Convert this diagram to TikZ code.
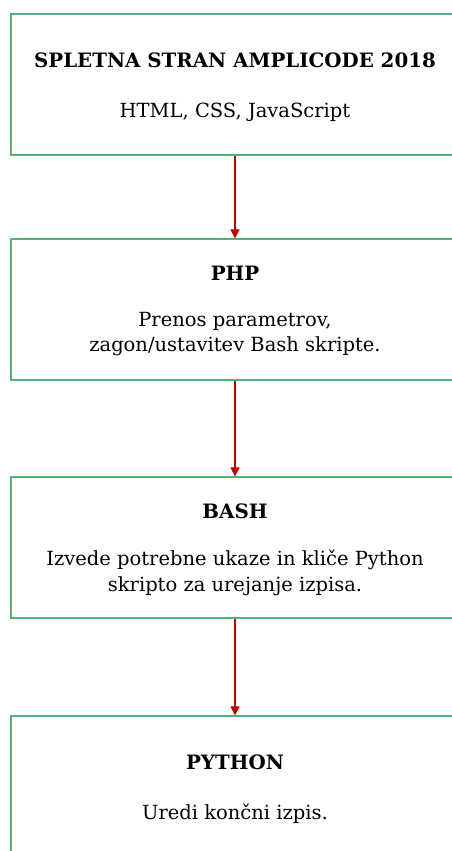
\documentclass[tikz,border=0pt]{standalone}
\usepackage{fontspec}
\setmainfont{DejaVu Serif}
\usetikzlibrary{arrows.meta}
\definecolor{boxgreen}{RGB}{82,179,120}
\definecolor{arrowred}{RGB}{195,0,0}
\tikzset{
  stage/.style={draw=boxgreen, line width=1.3pt, fill=white,
    minimum width=448pt, minimum height=141pt, inner sep=0pt},
  title/.style={anchor=base, font=\fontsize{19.8}{24}\selectfont\bfseries, inner sep=0pt},
  desc/.style={anchor=base, font=\fontsize{19.5}{25.5}\selectfont, align=center, inner sep=0pt},
  flow/.style={draw=arrowred, line width=1.2pt,
    -{Triangle[length=9pt,width=9pt]}}
}
\begin{document}
\begin{tikzpicture}[x=1pt,y=-1pt]
  \clip (0,0) rectangle (452,851);
  \fill[white] (0,0) rectangle (452,851);

  % four processing stages, stacked vertically
  \node[stage] (b1) at (235,84.5) {};
  \node[stage] (b2) at (235,309.5) {};
  \node[stage] (b3) at (235,547.5) {};
  \node[stage] (b4) at (235,786.5) {};

  % stage titles and descriptions
  \node[title] (t1) at (235,67) {SPLETNA STRAN AMPLICODE 2018};
  \node[desc]  (d1) at (235,117) {HTML, CSS, JavaScript};

  \node[title] (t2) at (235,280) {PHP};
  \node[desc, anchor=north] (d2) at (235,312) {Prenos parametrov,\\zagon/ustavitev Bash skripte.};

  \node[title] (t3) at (235,518) {BASH};
  \node[desc, anchor=north] (d3) at (235,550) {Izvede potrebne ukaze in kliče Python\\skripto za urejanje izpisa.};

  \node[title] (t4) at (235,769) {PYTHON};
  \node[desc]  (d4) at (235,819) {Uredi končni izpis.};

  % data flow between stages
  \draw[flow] (b1.south) -- (b2.north);
  \draw[flow] (b2.south) -- (b3.north);
  \draw[flow] (b3.south) -- (b4.north);
\end{tikzpicture}
\end{document}
